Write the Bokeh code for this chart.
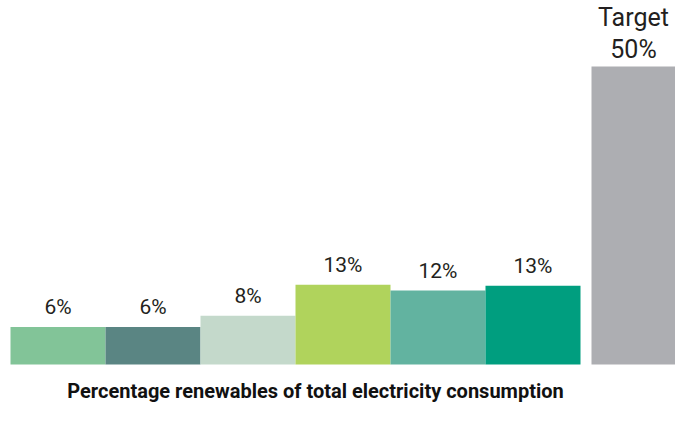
from bokeh.plotting import figure
from bokeh.models import Range1d, ColumnDataSource, Label
from bokeh.embed import file_html
from bokeh.resources import INLINE
from bokeh.core.properties import value

# data
categories = ["A", "B", "C", "D", "E", "F", "Target"]
values = [6.3, 6.3, 8.2, 13.4, 12.4, 13.2, 50.0]
labels = ["6%", "6%", "8%", "13%", "12%", "13%", "50%"]
colors = ["#82c498", "#5a8583", "#c4d9cb", "#b0d35c", "#62b3a0", "#009e7f", "#adaeb2"]
title_text = "Percentage renewables of total electricity consumption"
target_caption = "Target"

W, H = 675, 405
U = 95.0            # px per bar
x0_px = 10          # left margin
base_px = 41        # baseline distance from bottom
scale = 298 / 50.0  # px per percent

left = [0, 1, 2, 3, 4, 5, 6 + 11 / U]
right = [1, 2, 3, 4, 5, 6, 7.0]
mid = [(l + r) / 2 for l, r in zip(left, right)]

n = len(categories) - 1
src = ColumnDataSource(dict(left=left[:n], right=right[:n], top=values[:n], bottom=[0] * n,
                            color=colors[:n], mid=mid[:n], lab=labels[:n]))
tsrc = ColumnDataSource(dict(left=left[n:], right=right[n:], top=values[n:], bottom=[0],
                             color=colors[n:], mid=mid[n:], lab=labels[n:]))

p = figure(width=W, height=H, output_backend="svg", toolbar_location=None,
           x_range=Range1d(-x0_px / U, (W - x0_px) / U),
           y_range=Range1d(-base_px / scale, (H - base_px) / scale),
           min_border=0)
p.axis.visible = False
p.grid.visible = False
p.outline_line_color = None
p.background_fill_color = "white"

for s in (src, tsrc):
    p.quad(left="left", right="right", top="top", bottom="bottom", fill_color="color",
           line_color=None, source=s)

p.text(x="mid", y="top", text="lab", source=src, text_align="center",
       text_baseline="bottom", y_offset=-8, text_font=value("Roboto"),
       text_font_size="21px", text_color="#231f20")

p.text(x="mid", y="top", text="lab", source=tsrc, text_align="center",
       text_baseline="bottom", y_offset=-3, text_font=value("Roboto"),
       text_font_size="25px", text_color="#231f20")
p.text(x=mid[n:], y=values[n:], text=[target_caption], text_align="center",
       text_baseline="bottom", y_offset=-35, text_font=value("Roboto"),
       text_font_size="25px", text_color="#231f20")

p.add_layout(Label(x=315, y=3, x_units="screen", y_units="screen",
                   text=title_text, text_align="center", text_baseline="bottom",
                   text_font="Roboto", text_font_style="bold", text_font_size="20px",
                   text_color="#111111"))

open("out.html", "w").write(file_html(p, INLINE))
